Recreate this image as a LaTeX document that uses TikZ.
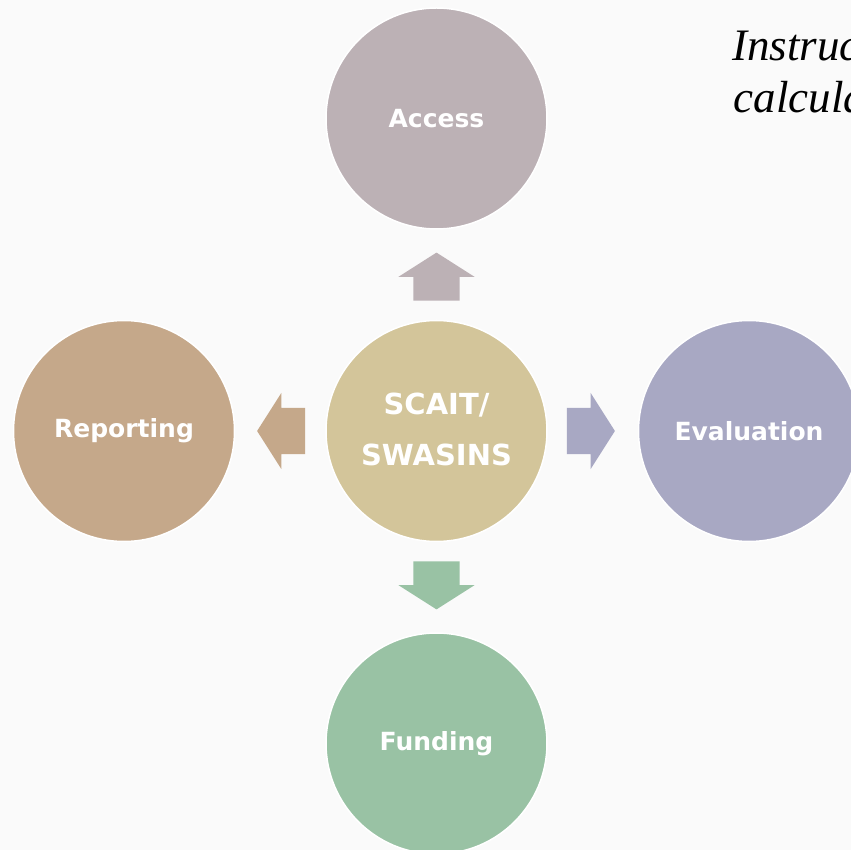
\documentclass[tikz,border=0pt]{standalone}
\usepackage{fontspec}
\setmainfont{Liberation Serif}
\newfontfamily\labelfont{DejaVu Sans}
\usetikzlibrary{positioning, shapes.arrows}
\definecolor{bgc}{HTML}{FAFAFA}
\definecolor{hubc}{HTML}{D3C59A}
\definecolor{accessc}{HTML}{BCB1B5}
\definecolor{evalc}{HTML}{A8A8C3}
\definecolor{fundc}{HTML}{99C2A4}
\definecolor{reportc}{HTML}{C5A88A}
\tikzstyle{bubble} = [circle, minimum size=221pt, inner sep=0pt, draw=white, line width=1.5pt, text=white, align=center, font=\labelfont\bfseries\fontsize{25}{30}\selectfont]
\tikzstyle{arrowbox} = [single arrow, draw=none, minimum height=48pt, inner xsep=0pt, inner ysep=23pt, single arrow head extend=15pt, single arrow tip angle=115]
\tikzstyle{notetext} = [inner sep=0pt, anchor=base west, font=\itshape\fontsize{45}{53}\selectfont]

\begin{document}
\begin{tikzpicture}[node distance=312.5pt]
    \useasboundingbox (-436.5pt,431pt) rectangle (414.5pt,-419pt);
    \fill [bgc] (-436.5pt,431pt) rectangle (414.5pt,-419pt);
    %定义圆形节点
    \node (hub) [bubble, fill=hubc, font=\labelfont\bfseries\fontsize{29}{51}\selectfont] at (0,0) {\raisebox{4pt}{SCAIT/}\\\raisebox{4pt}{SWASINS}};
    \node (access) [bubble, fill=accessc, above of = hub] {Access};
    \node (eval) [bubble, fill=evalc, right of = hub] {Evaluation};
    \node (fund) [bubble, fill=fundc, below of = hub] {Funding};
    \node (report) [bubble, fill=reportc, left of = hub] {Reporting};

    %定义箭头
    \node (upArr) [arrowbox, fill=accessc, rotate=90] at (0,147pt) {};
    \node (rightArr) [arrowbox, fill=evalc] at (147pt,0) {};
    \node (downArr) [arrowbox, fill=fundc, rotate=-90] at (0,-147pt) {};
    \node (leftArr) [arrowbox, fill=reportc, rotate=180] at (-148pt,0) {};

    %右上角文字
    \node (note1) [notetext] at (295.5pt,370pt) {Instruc};
    \node (note2) [notetext] at (297pt,318pt) {calcula};
\end{tikzpicture}
\end{document}
